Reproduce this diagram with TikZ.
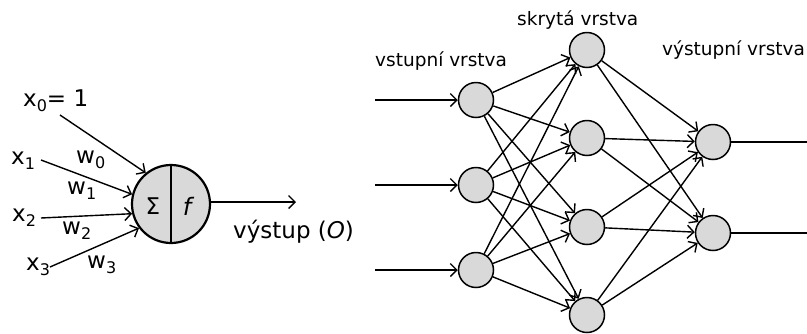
\documentclass[tikz,border=0pt]{standalone}
\usepackage{fontspec}
\setmainfont{DejaVu Sans}
\usetikzlibrary{arrows.meta}
\newcommand{\lowsub}[1]{\raisebox{-0.45ex}{\fontsize{16}{16}\selectfont #1}}
\begin{document}
\begin{tikzpicture}[x=1pt,y=-1pt,
  conn/.style={line width=1.4pt,-{Straight Barb[length=6.5pt,width=13pt,line width=1.4pt]}},
  plain/.style={line width=1.4pt},
  unit/.style={circle,draw,line width=1.5pt,fill=nodegray,minimum size=35pt,inner sep=0pt},
  biglbl/.style={font=\fontsize{23}{23}\selectfont,inner sep=0pt,anchor=base west},
  smalllbl/.style={font=\fontsize{18.5}{18.5}\selectfont,inner sep=0pt,anchor=base west}]
\definecolor{nodegray}{HTML}{D9D9D9}
\useasboundingbox (0,0) rectangle (807,333);

% ---------- single neuron ----------
\node[circle,draw,line width=2.2pt,fill=nodegray,minimum size=78pt,inner sep=0pt] (n) at (171,204) {};
\draw[line width=2pt] (n.north) -- (n.south);
\node[font=\fontsize{23}{23}\selectfont,inner sep=0pt] (sig) at (153,206) {Σ};
\node[font=\fontsize{24}{24}\selectfont\itshape,inner sep=0pt] (ff) at (187,206) {f};

\coordinate (t0) at (60,115);
\coordinate (t1) at (41,160);
\coordinate (t2) at (41,218);
\coordinate (t3) at (50,267);
\draw[conn] (t0) -- (n.129);
\draw[conn] (t1) -- (n.166);
\draw[conn] (t2) -- (n.194);
\draw[conn] (t3) -- (n.217);

\node[biglbl] (lx0) at (23,106) {x\lowsub{0}= 1};
\node[biglbl] (lx1) at (11,164) {x\lowsub{1}};
\node[biglbl] (lx2) at (12,221) {x\lowsub{2}};
\node[biglbl] (lx3) at (26,270) {x\lowsub{3}};
\node[biglbl] (lw0) at (76,163) {w\lowsub{0}};
\node[biglbl] (lw1) at (67,194) {w\lowsub{1}};
\node[biglbl] (lw2) at (62,234) {w\lowsub{2}};
\node[biglbl] (lw3) at (87,268) {w\lowsub{3}};

\coordinate (nout) at (296,202);
\draw[conn] (n.east |- nout) -- (nout);
\node[biglbl] (lout) at (233,238) {výstup (\textit{O})};

% ---------- network ----------
\node[unit] (i1) at (476,100) {};
\node[unit] (i2) at (476,185) {};
\node[unit] (i3) at (476,270) {};
\node[unit] (h1) at (587,50) {};
\node[unit] (h2) at (587,138) {};
\node[unit] (h3) at (587,227) {};
\node[unit] (h4) at (587,315) {};
\node[unit] (o1) at (713,142) {};
\node[unit] (o2) at (713,233) {};

\coordinate (s1) at (375,100);
\coordinate (s2) at (375,185);
\coordinate (s3) at (375,270);
\draw[conn] (s1) -- (i1);
\draw[conn] (s2) -- (i2);
\draw[conn] (s3) -- (i3);

\foreach \i in {i1,i2,i3}
  \foreach \h in {h1,h2,h3,h4}
    \draw[conn] (\i) -- (\h);
\foreach \h in {h1,h2,h3,h4}
  \foreach \o in {o1,o2}
    \draw[conn] (\h) -- (\o);

\coordinate (e1) at (807,142);
\coordinate (e2) at (807,233);
\draw[plain] (o1) -- (e1);
\draw[plain] (o2) -- (e2);

\node[smalllbl] (lin) at (375,66) {vstupní vrstva};
\node[smalllbl] (lhid) at (517,25) {skrytá vrstva};
\node[smalllbl] (lon) at (662,55) {výstupní vrstva};
\end{tikzpicture}
\end{document}
